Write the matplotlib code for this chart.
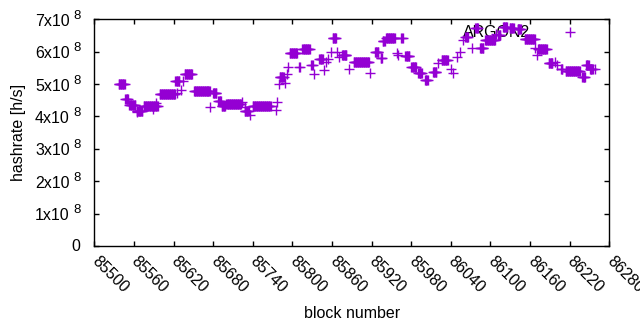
import numpy as np
import matplotlib
matplotlib.use("Agg")
import matplotlib.pyplot as plt
import matplotlib.transforms as mtrans
from matplotlib.ticker import FixedLocator, FixedFormatter

plt.rcParams['font.family'] = ['Liberation Sans', 'DejaVu Sans']

# hashrate estimate, stored as runs of blocks with the same value
# (first block of the run, number of blocks, hashrate in 1e8 h/s)
runStart = [85537, 85547, 85553, 85564, 85564, 85575, 85593, 85589, 85599, 85625,
            85623, 85634, 85632, 85637, 85651, 85675, 85680, 85688, 85693, 85700,
            85723, 85728, 85736, 85728, 85740, 85776, 85775, 85780, 85781, 85789,
            85792, 85793, 85796, 85810, 85815, 85829, 85833, 85841, 85848, 85851,
            85854, 85858, 85861, 85867, 85871, 85875, 85886, 85893, 85917, 85925,
            85934, 85937, 85942, 85965, 85958, 85960, 85971, 85980, 85991, 85993,
            86001, 86013, 86026, 86021, 86041, 86044, 86050, 86054, 86059, 86062,
            86072, 86077, 86084, 86092, 86108, 86112, 86119, 86129, 86141, 86152,
            86167, 86170, 86172, 86188, 86198, 86201, 86207, 86214, 86239, 86245,
            86251, 86258]
runLength = [10, 5, 10, 10, 1, 22, 1, 1, 24, 1,
             7, 1, 1, 12, 25, 1, 6, 5, 6, 23,
             1, 7, 1, 1, 28, 1, 1, 1, 7, 1,
             1, 1, 12, 2, 12, 3, 1, 6, 1, 1,
             1, 1, 6, 1, 1, 8, 1, 24, 1, 6,
             3, 4, 14, 3, 1, 1, 7, 8, 3, 4,
             5, 6, 10, 1, 1, 1, 1, 1, 1, 5,
             1, 5, 6, 16, 1, 4, 7, 7, 6, 16,
             1, 1, 14, 7, 1, 1, 3, 22, 5, 5,
             5, 1]
runRate = [4.99, 4.53, 4.35, 4.18, 4.15, 4.32, 4.43, 4.22, 4.68, 4.73,
           5.10, 5.08, 4.81, 5.30, 4.79, 4.28, 4.71, 4.48, 4.32, 4.40,
           4.46, 4.18, 4.04, 4.30, 4.31, 4.45, 4.20, 5.00, 5.21, 5.04,
           5.31, 5.53, 5.95, 5.53, 6.07, 5.59, 5.31, 5.76, 5.45, 5.69,
           5.76, 5.98, 6.41, 5.98, 5.84, 5.90, 5.48, 5.67, 5.35, 6.00,
           5.82, 6.34, 6.41, 6.41, 5.95, 5.90, 5.86, 5.52, 5.35, 5.33,
           5.12, 5.38, 5.73, 5.66, 5.48, 5.33, 5.84, 6.00, 6.36, 6.44,
           6.10, 6.72, 6.12, 6.36, 6.56, 6.53, 6.77, 6.74, 6.70, 6.39,
           6.10, 5.90, 6.07, 5.66, 5.69, 5.59, 5.48, 5.41, 5.21, 5.59,
           5.48, 5.48]

xTicks = list(range(85500, 86281, 60))
yTicks = [0, 1e8, 2e8, 3e8, 4e8, 5e8, 6e8, 7e8]
yTickMant = ['0', '1x10', '2x10', '3x10', '4x10', '5x10', '6x10', '7x10']
yTickExp = ['', '8', '8', '8', '8', '8', '8', '8']

blocks = np.concatenate([np.arange(s, s + n) for s, n in zip(runStart, runLength)])
rates = np.repeat(np.array(runRate) * 1e8, runLength)

color = '#9400d3'
fs = 11.5
fig = plt.figure(figsize=(6.4, 3.3), dpi=100)
ax = fig.add_axes([0.1473, 0.2545, 0.8047, 0.6870])
ax.plot(blocks, rates, linestyle='none', marker='+', markersize=6.8,
        markeredgewidth=1.0, color=color, label='ARGON2', zorder=3)

ax.set_xlim(85500, 86280)
ax.set_ylim(0, 7e8)
ax.xaxis.set_major_locator(FixedLocator(xTicks))
ax.xaxis.set_major_formatter(FixedFormatter([str(t) for t in xTicks]))
ax.yaxis.set_major_locator(FixedLocator(yTicks))
ax.tick_params(direction='in', length=3.5, width=1.0, top=True, right=True,
               labelsize=fs, colors='black')
ax.tick_params(axis='y', labelleft=False)
ax.tick_params(axis='x', pad=9)
for lab in ax.get_xticklabels():
    lab.set_rotation(-45)
    lab.set_rotation_mode('anchor')
    lab.set_ha('left')
    lab.set_va('center')
for sp in ax.spines.values():
    sp.set_linewidth(1.0)

# y tick labels drawn gnuplot style: mantissa plus raised exponent
ytrans = ax.get_yaxis_transform()
for yv, mant, ex in zip(yTicks, yTickMant, yTickExp):
    if ex == '':
        ax.text(0, yv, mant, ha='right', va='center', fontsize=fs,
                transform=mtrans.offset_copy(ytrans, fig=fig, x=-14, y=0, units='dots'))
    else:
        ax.text(0, yv, mant, ha='right', va='center', fontsize=fs,
                transform=mtrans.offset_copy(ytrans, fig=fig, x=-24.5, y=-2, units='dots'))
        ax.text(0, yv, ex, ha='right', va='center', fontsize=fs * 0.82,
                transform=mtrans.offset_copy(ytrans, fig=fig, x=-13.5, y=3.5, units='dots'))

ax.set_xlabel('block number', fontsize=fs, labelpad=8)
ax.set_ylabel('hashrate [h/s]', fontsize=fs)
ax.yaxis.set_label_coords(-0.1326, 0.5)

leg = ax.legend(loc='upper right', bbox_to_anchor=(1.0, 1.044), frameon=False,
                markerfirst=False, fontsize=fs, handlelength=2.9,
                handletextpad=1.05, borderaxespad=0.6)
leg.set_zorder(1)

fig.savefig('out.png', dpi=100)
